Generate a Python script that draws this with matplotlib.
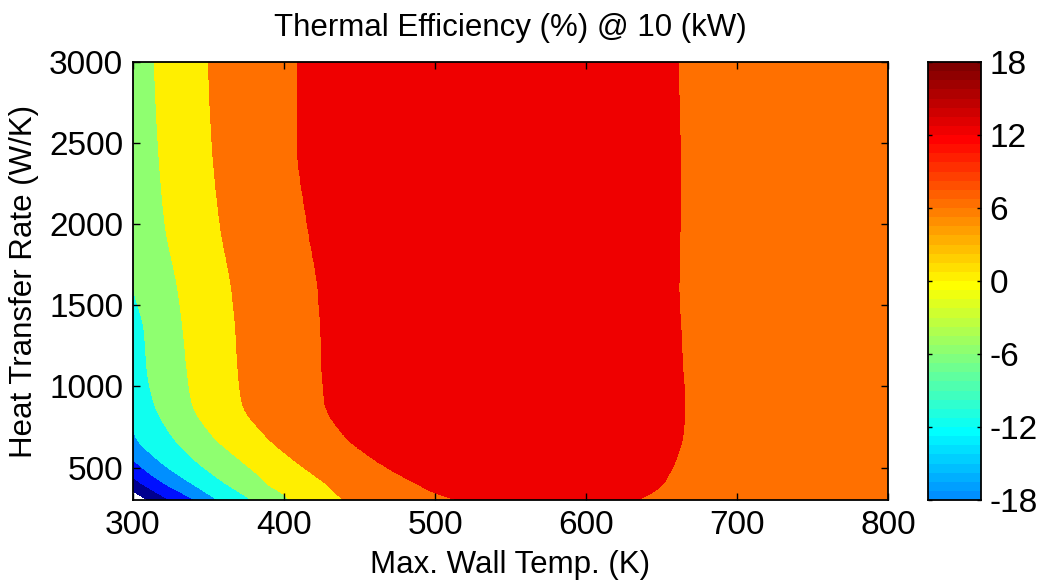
import numpy as np
import matplotlib
matplotlib.use('Agg')
import matplotlib.pyplot as plt
from matplotlib.colors import ListedColormap, Normalize

plt.rcParams['font.family'] = ['Liberation Sans', 'DejaVu Sans']
plt.rcParams['axes.unicode_minus'] = False

nan = np.nan

# heat transfer rate of each sampled row (W/K)
ua = [300, 350, 400, 450, 550, 700, 900, 1100, 1350, 1600, 2000, 2500, 3000]

# efficiency (%) at both ends of the wall temperature range, and the peak
eff_300 = [-33.0, -30.5, -26.7, -23.2, -17.9, -12.5, -10.75, -9.4, -7.8, -6.1, -4.5, -3.5, -3.0]
eff_800 = [8.0, 8.0, 8.0, 8.0, 8.0, 8.0, 8.0, 8.0, 8.0, 8.0, 8.0, 8.0, 8.0]
eff_peak = [15.0, 15.0, 15.0, 15.0, 15.0, 15.0, 15.0, 15.0, 15.0, 15.0, 15.0, 15.0, 15.0]
t_peak = [560, 560, 560, 560, 550, 550, 540, 540, 540, 540, 540, 540, 540]

# wall temperature (K) where the efficiency rises through each level
t_rise = {
    -30: [309.9, 301.0, nan, nan, nan, nan, nan, nan, nan, nan, nan, nan, nan],
    -24: [324.5, 314.9, 306.0, nan, nan, nan, nan, nan, nan, nan, nan, nan, nan],
    -18: [341.1, 331.1, 321.2, 313.0, nan, nan, nan, nan, nan, nan, nan, nan, nan],
    -12: [356.3, 347.7, 339.2, 330.7, 316.2, 301.3, nan, nan, nan, nan, nan, nan, nan],
    -6: [378.8, 370.2, 361.6, 354.0, 340.4, 325.4, 313.8, 309.3, 307.3, 300.4, nan, nan, nan],
    0: [404.0, 397.4, 388.7, 383.4, 370.5, 352.3, 339.1, 335.8, 333.1, 329.6, 321.2, 316.6, 313.9],
    6: [439.1, 433.4, 427.8, 420.5, 406.0, 387.4, 372.2, 369.5, 367.9, 365.2, 357.6, 352.3, 349.7],
    12: [514.6, 498.3, 488.1, 477.5, 459.6, 439.5, 426.8, 425.0, 424.0, 422.2, 415.2, 408.6, 408.6],
}
# wall temperature (K) where it falls back through 12 %
t_fall_12 = [633.8, 644.4, 651.0, 654.3, 659.6, 664.2, 665.6, 664.2, 662.9, 661.6, 662.3, 662.3, 660.9]

levels = [-30, -24, -18, -12, -6, 0, 6, 12, 18]
clim = (-30, 18)


def matlab_jet(n):
    m = n // 4
    u = np.concatenate([np.arange(1, m + 1) / m, np.ones(m - 1), np.arange(m, 0, -1) / m])
    g = int(np.ceil(m / 2)) - (1 if n % 4 == 1 else 0) + np.arange(1, len(u) + 1)
    r = g + m
    b = g - m
    cmap = np.zeros((n, 3))
    for col, idx in ((0, r), (1, g), (2, b)):
        ok = (idx >= 1) & (idx <= n)
        cmap[idx[ok] - 1, col] = u[ok]
    return cmap


def pchip(x, y, xq):
    # shape preserving cubic through the sampled rows
    x = np.asarray(x, float)
    y = np.asarray(y, float)
    xq = np.asarray(xq, float)
    if len(x) < 3:
        return np.interp(xq, x, y)
    h = np.diff(x)
    d = np.diff(y) / h
    m = np.zeros(len(x))
    for k in range(1, len(x) - 1):
        if d[k - 1] * d[k] > 0:
            w1 = 2 * h[k] + h[k - 1]
            w2 = h[k] + 2 * h[k - 1]
            m[k] = (w1 + w2) / (w1 / d[k - 1] + w2 / d[k])
    m[0] = d[0]
    m[-1] = d[-1]
    i = np.clip(np.searchsorted(x, xq) - 1, 0, len(x) - 2)
    t = np.clip((xq - x[i]) / h[i], 0, 1)
    h00 = 2 * t**3 - 3 * t**2 + 1
    h10 = t**3 - 2 * t**2 + t
    h01 = -2 * t**3 + 3 * t**2
    h11 = t**3 - t**2
    return h00 * y[i] + h10 * h[i] * m[i] + h01 * y[i + 1] + h11 * h[i] * m[i + 1]


jet = ListedColormap(matlab_jet(64))
norm = Normalize(*clim)
band_colors = jet(norm(np.array(levels[:-1])))

# efficiency field on a fine grid, rebuilt from the level crossings
t_grid = np.linspace(300, 800, 501)
ua_grid = np.linspace(300, 3000, 541)
ua_arr = np.array(ua, dtype=float)

edge = pchip(ua_arr, eff_300, ua_grid)
hot = np.interp(ua_grid, ua_arr, eff_800)
top = np.interp(ua_grid, ua_arr, eff_peak)
t_top = np.interp(ua_grid, ua_arr, t_peak)
t_down = pchip(ua_arr, t_fall_12, ua_grid)

crossings = {}
for lev in levels[:-1]:
    tt = np.array(t_rise[lev])
    have = ~np.isnan(tt)
    u_pts = list(ua_arr[have])
    t_pts = list(tt[have])
    if lev < max(eff_300):
        # where this level leaves through the 300 K edge
        u_edge = np.interp(lev, eff_300, ua_arr)
        u_pts.append(u_edge)
        t_pts.append(300.0)
    else:
        u_edge = np.inf
    cross = pchip(u_pts, t_pts, ua_grid)
    cross[ua_grid >= u_edge] = nan
    crossings[lev] = cross

eff = np.zeros((len(ua_grid), len(t_grid)))
for i in range(len(ua_grid)):
    kx = [300.0]
    kz = [edge[i]]
    for lev in levels[:-1]:
        c = crossings[lev][i]
        if not np.isnan(c) and c > kx[-1]:
            kx.append(c)
            kz.append(lev)
    kx += [t_top[i], t_down[i], 800.0]
    kz += [top[i], 12.0, hot[i]]
    eff[i] = np.interp(t_grid, kx, kz)

fig = plt.figure(figsize=(10.39, 5.84), dpi=100)
ax = fig.add_axes([0.128, 0.1438, 0.7267, 0.75])
ax.contourf(t_grid, ua_grid, eff, levels=levels, colors=band_colors)
ax.set_xlim(300, 800)
ax.set_ylim(300, 3000)
ax.set_xticks([300, 400, 500, 600, 700, 800])
ax.set_yticks([500, 1000, 1500, 2000, 2500, 3000])
ax.tick_params(direction='in', top=True, right=True, length=5, width=1, labelsize=24, pad=7)
for s in ax.spines.values():
    s.set_linewidth(1.3)
ax.set_xlabel('Max. Wall Temp. (K)', fontsize=22.5, labelpad=7)
ax.set_ylabel('Heat Transfer Rate (W/K)', fontsize=22.5, labelpad=7)
ax.set_title('Thermal Efficiency (%) @ 10 (kW)', fontsize=22.5, pad=19)

# colour bar
cax = fig.add_axes([0.8932, 0.1438, 0.051, 0.75])
cax.imshow(matlab_jet(64)[:, None, :], extent=[0, 1, clim[0], clim[1]],
           origin='lower', aspect='auto', interpolation='nearest')
cax.set_ylim(-18, 18)
cax.set_xlim(0, 1)
cax.set_xticks([])
cax.set_yticks([-18, -12, -6, 0, 6, 12, 18])
cax.yaxis.tick_right()
cax.tick_params(direction='in', left=True, right=True, length=3, width=1, labelsize=24, pad=6)
for s in cax.spines.values():
    s.set_linewidth(1.3)

fig.savefig('out.png', dpi=100)
